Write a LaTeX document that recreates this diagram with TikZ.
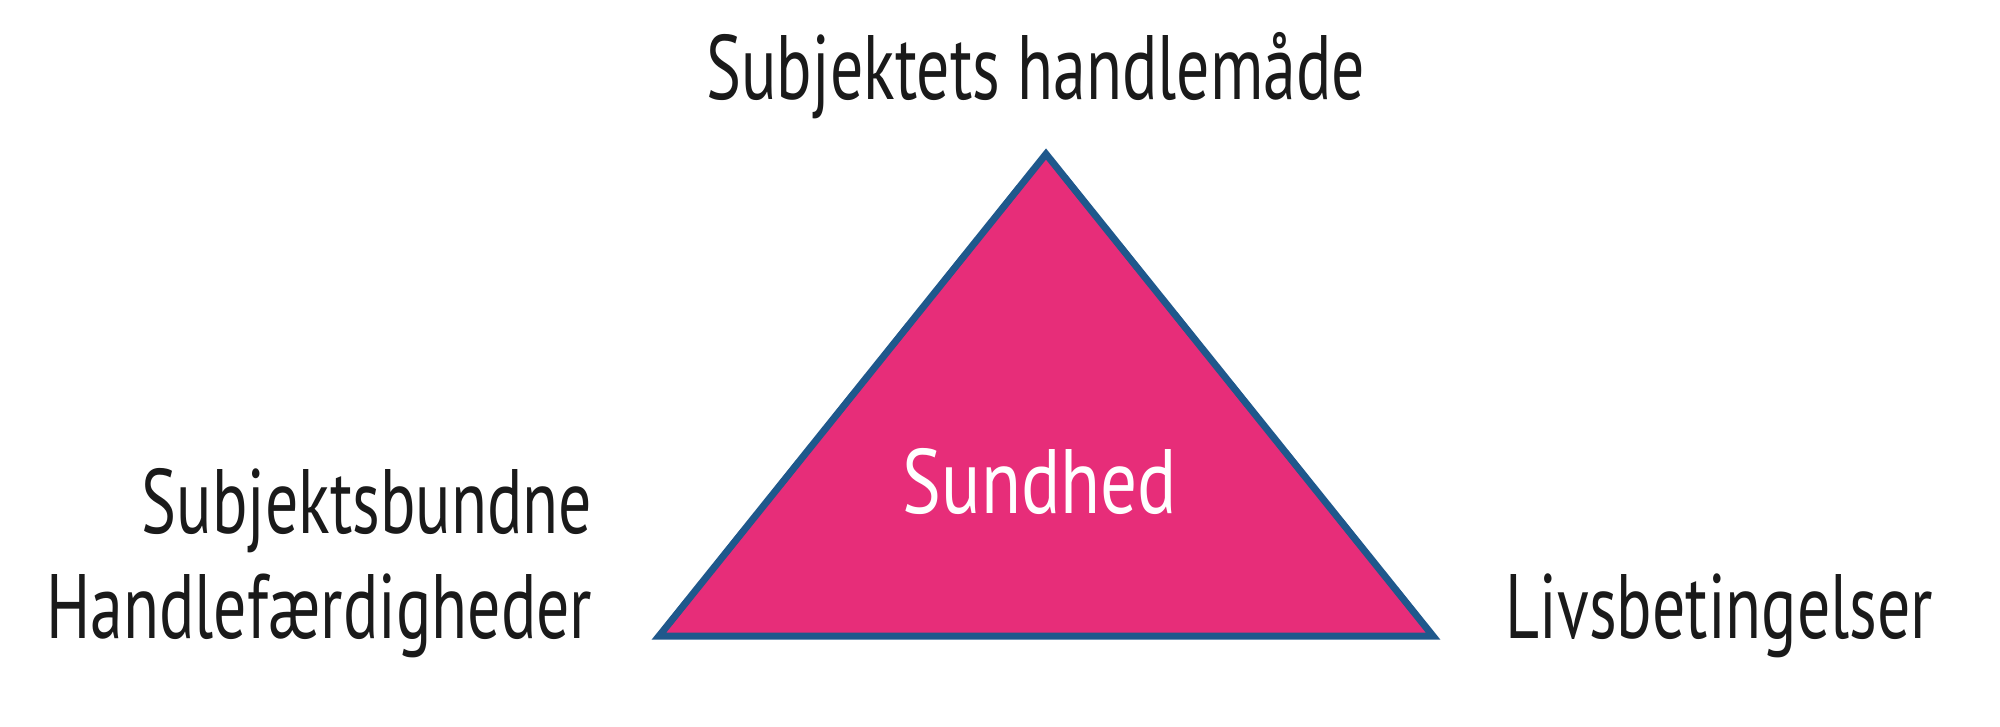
\documentclass[tikz,border=0pt]{standalone}
\usepackage{fontspec}
\setmainfont[FakeStretch=0.72]{PT Sans}
\newfontfamily\sundfont[FakeStretch=0.80]{PT Sans}
\definecolor{triFill}{RGB}{231,45,121}
\definecolor{triLine}{RGB}{31,88,140}
\definecolor{txt}{RGB}{26,26,26}
\begin{document}
\begin{tikzpicture}[x=0.01cm,y=-0.01cm,
  lbl/.style={font=\fontsize{26pt}{30pt}\selectfont, text=txt, inner sep=0pt},
  inlbl/.style={font=\sundfont\fontsize{26pt}{30pt}\selectfont, text=white, inner sep=0pt}]
\useasboundingbox (0,0) rectangle (2000,726);
\fill[white] (0,0) rectangle (2000,726);
\coordinate (apex) at (1046,154);
\coordinate (bl) at (659,636);
\coordinate (br) at (1433,636);
\filldraw[fill=triFill, draw=triLine, line width=7*0.01cm, line join=miter] (apex) -- (br) -- (bl) -- cycle;
\node[inlbl, anchor=base] (sund) at (1040,513) {Sundhed};
\node[lbl, anchor=base] (top) at (1036,99) {Subjektets handlemåde};
\node[lbl, anchor=base east] (sb) at (593,533) {Subjektsbundne};
\node[lbl, anchor=base east] (hf) at (593,638) {Handlefærdigheder};
\node[lbl, anchor=base west] (lv) at (1505,638) {Livsbetingelser};
\end{tikzpicture}
\end{document}
